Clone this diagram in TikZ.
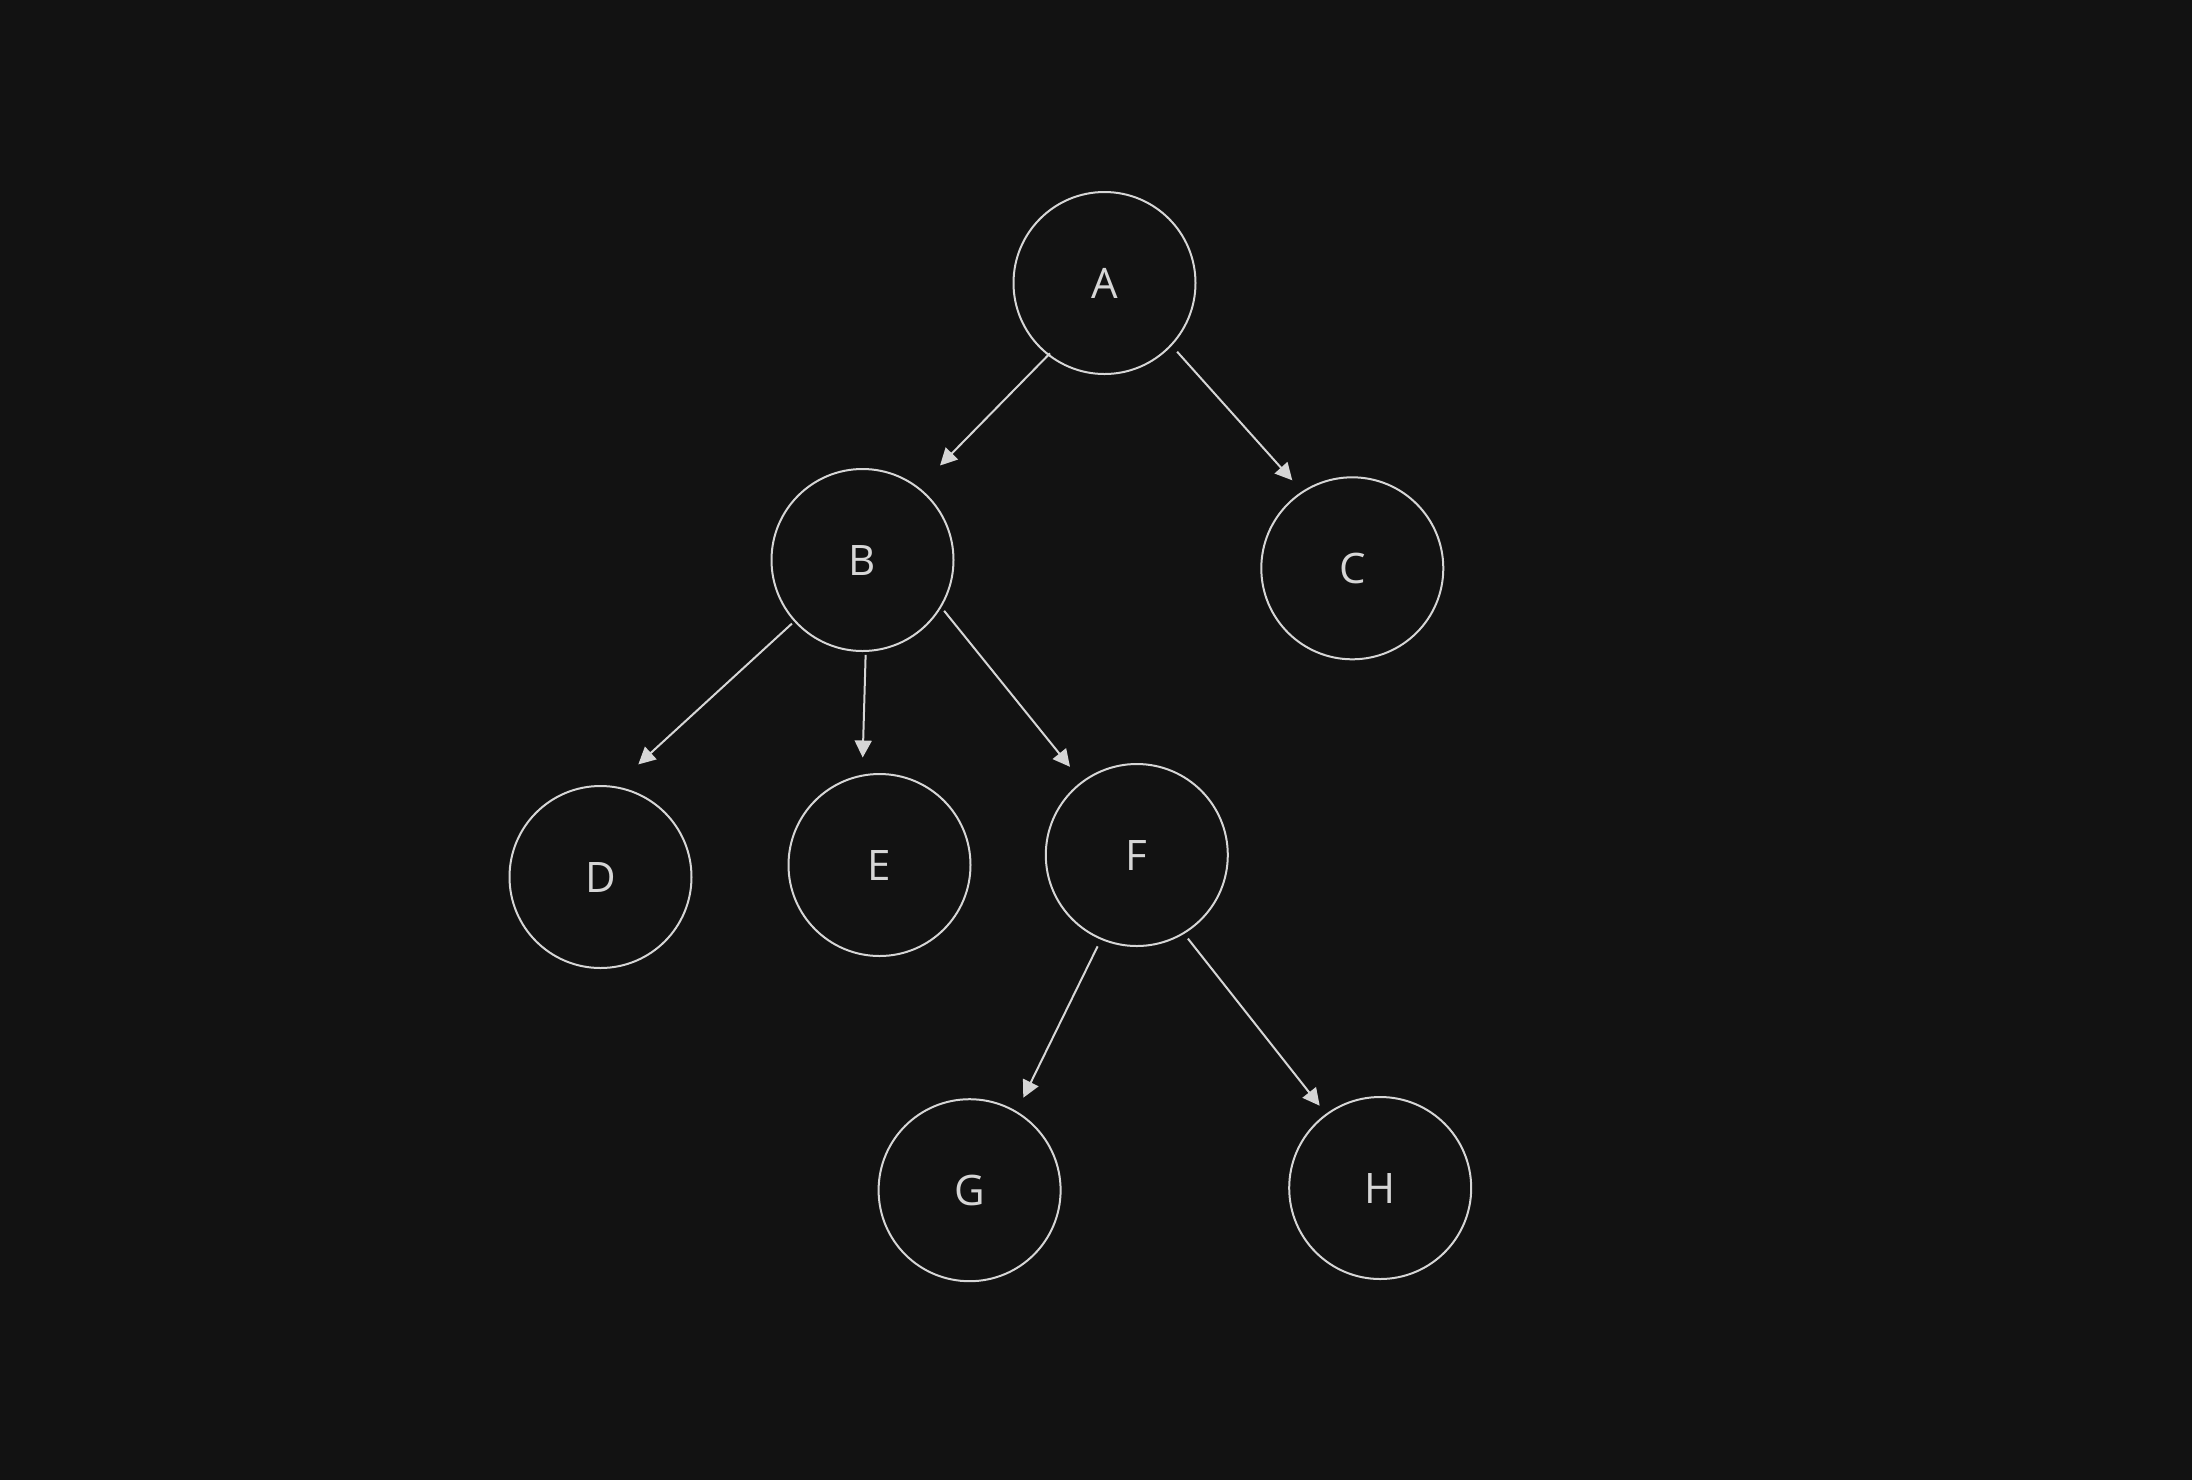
\documentclass[tikz,border=0pt]{standalone}
\usepackage{fontspec}
\setmainfont{Open Sans}
\usetikzlibrary{arrows.meta}
\definecolor{bgc}{HTML}{121212}
\definecolor{fgc}{HTML}{D6D6D6}
\tikzset{
  treenode/.style={circle,draw=fgc,line width=1pt,minimum size=91pt,inner sep=0pt,
    text=fgc,font=\fontsize{21}{21}\selectfont},
  edge/.style={draw=fgc,line width=1pt,-{Triangle[length=8.5pt,width=8.5pt]}}
}
\begin{document}
\begin{tikzpicture}[x=0.5pt,y=-0.5pt]
\fill[bgc] (0,0) rectangle (2192,1480);
\useasboundingbox (0,0) rectangle (2192,1480);
\node[treenode] (A) at (1104.5,283) {A};
\node[treenode] (B) at (862.5,560) {B};
\node[treenode] (C) at (1352.3,568.3) {C};
\node[treenode] (D) at (600.5,877) {D};
\node[treenode] (E) at (879.5,865) {E};
\node[treenode] (F) at (1136.8,855) {F};
\node[treenode] (G) at (969.6,1190.2) {G};
\node[treenode] (H) at (1380.2,1188) {H};
\coordinate (tAB) at (940,465.5);
\coordinate (tAC) at (1292.3,480.3);
\coordinate (tBD) at (638.3,764.4);
\coordinate (tBE) at (862.7,757.5);
\coordinate (tBF) at (1070,766.8);
\coordinate (tFG) at (1023.3,1097.7);
\coordinate (tFH) at (1319.7,1105.7);
\draw[edge,shorten <=-1.5pt] (A.-128.4) -- (tAB);
\draw[edge,shorten <=4pt] (A.-43.2) -- (tAC);
\draw[edge,shorten <=1.5pt] (B.-138.8) -- (tBD);
\draw[edge,shorten <=1.5pt] (B.-88.9) -- (tBE);
\draw[edge,shorten <=2.2pt] (B.-31.4) -- (tBF);
\draw[edge,shorten <=3.7pt] (F.-113.6) -- (tFG);
\draw[edge,shorten <=3pt] (F.-59.5) -- (tFH);
\end{tikzpicture}
\end{document}
